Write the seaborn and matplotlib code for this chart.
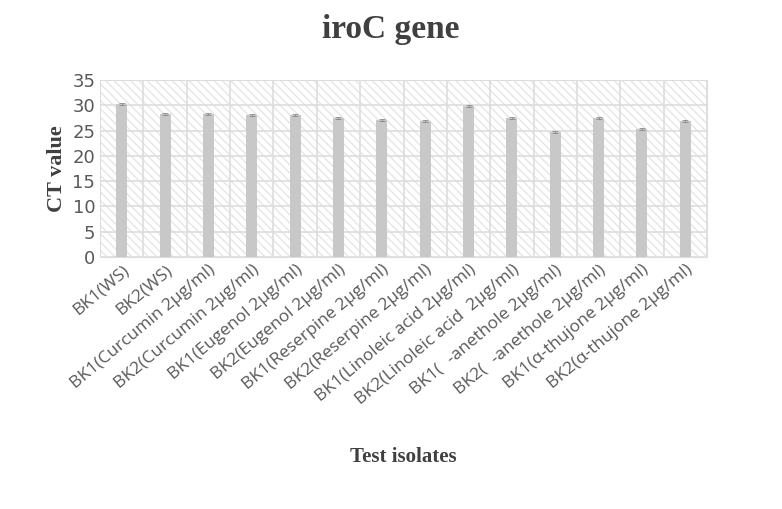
import matplotlib
matplotlib.use("Agg")
import matplotlib.pyplot as plt
import seaborn as sns
import pandas as pd
import numpy as np
from matplotlib.patches import Rectangle

categories = ["BK1(WS)", "BK2(WS)", "BK1(Curcumin 2µg/ml)", "BK2(Curcumin 2µg/ml)",
              "BK1(Eugenol 2µg/ml)", "BK2(Eugenol 2µg/ml)", "BK1(Reserpine 2µg/ml)",
              "BK2(Reserpine 2µg/ml)", "BK1(Linoleic acid 2µg/ml)", "BK2(Linoleic acid  2µg/ml)",
              "BK1(Ɛ-anethole 2µg/ml)", "BK2(Ɛ-anethole 2µg/ml)", "BK1(α-thujone 2µg/ml)",
              "BK2(α-thujone 2µg/ml)"]
ct_values = [30.2, 28.3, 28.3, 28.0, 28.0, 27.5, 27.1, 26.9, 29.9, 27.4, 24.8, 27.5, 25.3, 26.9]
errors = [0.2] * 14

df = pd.DataFrame({"cat": categories, "ct": ct_values})

plt.rcParams["hatch.color"] = "#e3e3e3"
fig = plt.figure(figsize=(7.82, 5.09), dpi=100)
ax = fig.add_axes([0.128, 0.495, 0.776, 0.348])
ax.add_patch(Rectangle((0, 0), 1, 1, transform=ax.transAxes, facecolor="white",
                       edgecolor="#e6e6e6", hatch="\\\\\\\\", lw=0, zorder=0))
sns.barplot(data=df, x="cat", y="ct", color="#c8c8c8", width=0.25, ax=ax, zorder=3,
            saturation=1)
ax.errorbar(np.arange(14), ct_values, yerr=errors, fmt="none", ecolor="#888888",
            elinewidth=0.6, capsize=2, capthick=0.6, zorder=4)
ax.set_xlim(-0.5, 13.5)
ax.set_ylim(0, 35)
ax.set_yticks(range(0, 36, 5))
ax.set_xticks(np.arange(-0.5, 14, 1), minor=True)
ax.grid(True, which="major", axis="y", color="#dddddd", lw=1.2, zorder=1)
ax.grid(True, which="minor", axis="x", color="#dddddd", lw=1.2, zorder=1)
ax.tick_params(which="both", length=0)
for s in ax.spines.values():
    s.set_color("#dddddd")
ax.set_xticks(np.arange(14))
ax.set_xticklabels(categories, rotation=40, ha="right", rotation_mode="anchor",
                   fontsize=12.5, color="#595959", family="Open Sans")
for t in ax.get_yticklabels():
    t.set_fontsize(13); t.set_color("#595959")
ax.set_xlabel("Test isolates", fontsize=15, fontweight="bold", family="Liberation Serif",
              color="#404040", labelpad=28)
ax.set_ylabel("CT value", fontsize=16, fontweight="bold", family="Liberation Serif",
              color="#404040")
fig.text(0.5, 0.925, "iroC gene", ha="center", fontsize=24, fontweight="bold",
         family="Liberation Serif", color="#404040")
fig.savefig("out.png", dpi=100)
